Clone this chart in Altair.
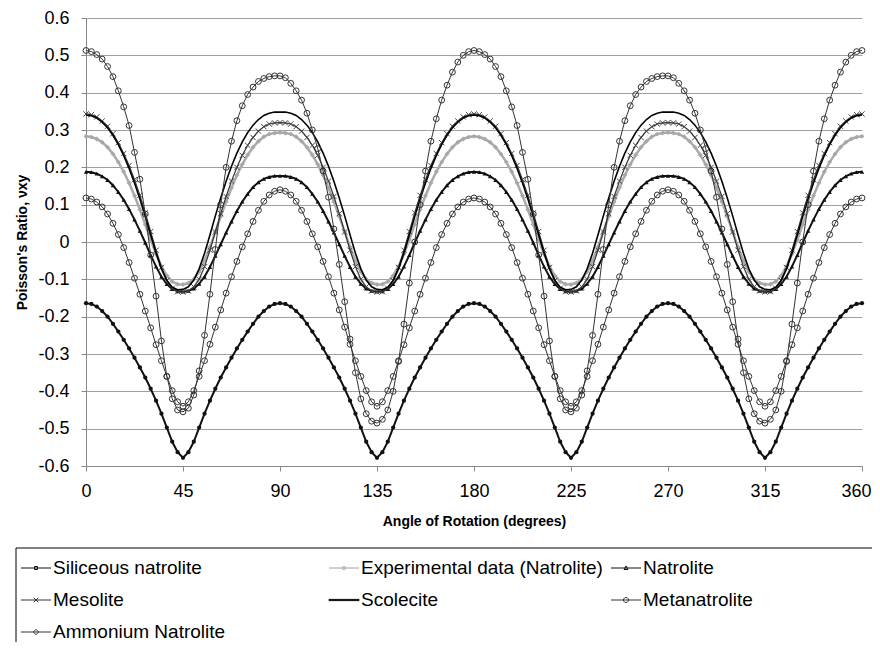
import altair as alt
import pandas as pd

# ---------------- data (every 2.5 degrees) ----------------
names = ["Siliceous natrolite", "Experimental data (Natrolite)", "Natrolite",
         "Mesolite", "Scolecite", "Metanatrolite", "Ammonium Natrolite"]

angle_step = 2.5

# 0..90 degrees (curve is mirror-symmetric about 90 and repeats every 180)
siliceous_0_90 = [-0.164, -0.166, -0.173, -0.185, -0.2, -0.219, -0.24, -0.262, -0.285, -0.31,
                  -0.336, -0.363, -0.393, -0.425, -0.46, -0.497, -0.535, -0.563, -0.578,
                  -0.563, -0.535, -0.497, -0.46, -0.425, -0.393, -0.363, -0.336, -0.31,
                  -0.285, -0.262, -0.24, -0.219, -0.2, -0.185, -0.173, -0.166, -0.164]
experimental_0_90 = [0.283, 0.281, 0.276, 0.267, 0.254, 0.236, 0.214, 0.188, 0.158, 0.124,
                     0.087, 0.047, 0.006, -0.032, -0.065, -0.09, -0.106, -0.113, -0.114,
                     -0.11, -0.1, -0.08, -0.05, -0.013, 0.027, 0.068, 0.108, 0.145,
                     0.179, 0.208, 0.233, 0.254, 0.27, 0.282, 0.289, 0.292, 0.293]
natrolite_0_90 = [0.188, 0.187, 0.183, 0.176, 0.166, 0.152, 0.134, 0.113, 0.088, 0.06,
                  0.03, -0.002, -0.035, -0.066, -0.093, -0.113, -0.126, -0.132, -0.133,
                  -0.131, -0.125, -0.112, -0.093, -0.067, -0.037, -0.006, 0.025, 0.055,
                  0.083, 0.108, 0.129, 0.147, 0.16, 0.169, 0.174, 0.177, 0.177]
mesolite_0_90 = [0.343, 0.341, 0.335, 0.324, 0.31, 0.29, 0.266, 0.237, 0.205, 0.167,
                 0.125, 0.078, 0.028, -0.022, -0.068, -0.103, -0.124, -0.133, -0.134,
                 -0.131, -0.12, -0.1, -0.066, -0.022, 0.027, 0.076, 0.122, 0.163,
                 0.2, 0.232, 0.259, 0.28, 0.297, 0.309, 0.316, 0.319, 0.32]
scolecite_0_90 = [0.34, 0.338, 0.332, 0.321, 0.306, 0.286, 0.261, 0.231, 0.197, 0.158,
                  0.115, 0.068, 0.019, -0.03, -0.072, -0.103, -0.121, -0.128, -0.127,
                  -0.12, -0.102, -0.072, -0.03, 0.019, 0.07, 0.118, 0.163, 0.203,
                  0.238, 0.268, 0.293, 0.313, 0.328, 0.339, 0.345, 0.348, 0.348]
metanatrolite_0_90 = [0.118, 0.115, 0.107, 0.094, 0.075, 0.05, 0.02, -0.015, -0.055, -0.097,
                      -0.14, -0.185, -0.23, -0.275, -0.318, -0.36, -0.398, -0.428, -0.44,
                      -0.428, -0.398, -0.36, -0.318, -0.274, -0.228, -0.182, -0.137, -0.093,
                      -0.052, -0.013, 0.022, 0.055, 0.085, 0.109, 0.126, 0.136, 0.14]
# 0..180 degrees (repeats every 180)
ammonium_0_180 = [0.513, 0.51, 0.502, 0.49, 0.47, 0.443, 0.405, 0.362, 0.312, 0.24,
                  0.168, 0.075, -0.035, -0.145, -0.265, -0.36, -0.42, -0.45, -0.455,
                  -0.445, -0.41, -0.345, -0.25, -0.14, -0.02, 0.1, 0.2, 0.27,
                  0.325, 0.365, 0.395, 0.415, 0.43, 0.438, 0.443, 0.445, 0.445,
                  0.44, 0.425, 0.405, 0.38, 0.345, 0.3, 0.25, 0.19, 0.12,
                  0.035, -0.06, -0.16, -0.26, -0.35, -0.42, -0.46, -0.48, -0.485,
                  -0.475, -0.45, -0.4, -0.32, -0.22, -0.11, 0.0, 0.1, 0.19,
                  0.27, 0.33, 0.38, 0.42, 0.455, 0.482, 0.5, 0.51, 0.513]

series_values = {
    "Siliceous natrolite": siliceous_0_90,
    "Experimental data (Natrolite)": experimental_0_90,
    "Natrolite": natrolite_0_90,
    "Mesolite": mesolite_0_90,
    "Scolecite": scolecite_0_90,
    "Metanatrolite": metanatrolite_0_90,
    "Ammonium Natrolite": ammonium_0_180,
}


def full_turn(vals):
    if len(vals) == 37:          # mirror 0..90 onto 90..180
        vals = vals + vals[-2::-1]
    return vals + vals[1:]       # 180..360 repeats 0..180


rows = []
for name in names:
    for i, v in enumerate(full_turn(series_values[name])):
        rows.append({"series": name, "angle": i * angle_step, "value": v})
df = pd.DataFrame(rows)

# ---------------- styles ----------------
FONT = "Liberation Sans, Arial, sans-serif"
styles = {
    "Siliceous natrolite": dict(color="#111111", lw=2, shape="circle", filled=True, size=18, mcolor="#111111"),
    "Experimental data (Natrolite)": dict(color="#aaaaaa", lw=2.5, shape="diamond", filled=True, size=24, mcolor="#a8a8a8"),
    "Natrolite": dict(color="#111111", lw=2, shape="triangle-up", filled=True, size=20, mcolor="#111111"),
    "Mesolite": dict(color="#333333", lw=1.2, shape="M-1,-1L1,1M-1,1L1,-1", filled=False, size=28, mcolor="#444444"),
    "Scolecite": dict(color="#000000", lw=1.6, shape=None),
    "Metanatrolite": dict(color="#333333", lw=1, shape="circle", filled=False, size=34, mcolor="#333333"),
    "Ammonium Natrolite": dict(color="#333333", lw=1, shape="circle", filled=False, size=34, mcolor="#333333"),
}

legend_colors = ["#111111", "#a0a0a0", "#111111", "#333333", "#000000", "#333333", "#333333"]
legend_paths = [
    "M-1,0H1M-0.1,-0.1H0.1V0.1H-0.1Z",
    "M-1,0H1M0,-0.13L0.13,0L0,0.13L-0.13,0Z",
    "M-1,0H1M-0.13,0.1L0,-0.14L0.13,0.1Z",
    "M-1,0H1M-0.15,-0.15L0.15,0.15M-0.15,0.15L0.15,-0.15",
    "M-1,-0.04H1V0.04H-1Z",
    "M-1,0H1M0.16,0.07L0.07,0.16L-0.07,0.16L-0.16,0.07L-0.16,-0.07L-0.07,-0.16L0.07,-0.16L0.16,-0.07Z",
    "M-1,0H1M0,-0.18L0.18,0L0,0.18L-0.18,0Z",
]

y_ticks = [round(i * 0.1, 1) for i in range(-6, 7)]
x_ticks = list(range(0, 361, 45))

x_enc = alt.X("angle:Q", scale=alt.Scale(domain=[0, 360], nice=False, zero=False),
              axis=alt.Axis(values=x_ticks, title="Angle of Rotation (degrees)", grid=False,
                            tickSize=5, labelPadding=11, titlePadding=14, labelFlush=False,
                            labelOffset={"condition": {"test": "datum.value === 360", "value": -6}, "value": 0}))
y_enc = alt.Y("value:Q", scale=alt.Scale(domain=[-0.6, 0.6], nice=False, zero=False),
              axis=alt.Axis(values=y_ticks, title="Poisson's Ratio, νxy", grid=True,
                            tickSize=5, labelPadding=12, titlePadding=8,
                            labelExpr="abs(datum.value) < 1e-9 ? '0' : (datum.value < 0 ? '-' : '') + format(abs(datum.value), '.1f')"))

plot_layers = []
for name in names:
    st = styles[name]
    sub = alt.Chart(df).transform_filter(alt.datum.series == name)
    plot_layers.append(sub.mark_line(color=st["color"], strokeWidth=st["lw"]).encode(x=x_enc, y=y_enc))
    if st["shape"]:
        plot_layers.append(sub.mark_point(shape=st["shape"], filled=st["filled"], color=st["mcolor"],
                                          size=st["size"], strokeWidth=1, opacity=1).encode(x=x_enc, y=y_enc))
plot = alt.layer(*plot_layers)

# ---------------- legend (boxed, 3 columns, entries in series order) ----------------
legend_df = pd.DataFrame({"series": names})
legend_df["col"] = [i % 3 for i in range(len(names))]
legend_df["row"] = [i // 3 for i in range(len(names))]

lx = alt.X("col:Q", scale=alt.Scale(domain=[0, 1, 2], range=[-50, 258, 540]), axis=None)
ly = alt.Y("row:Q", scale=alt.Scale(domain=[0, 2], range=[550, 614]), axis=None)

box = alt.Chart(pd.DataFrame({"box": [0]})).mark_rect(
    fill="#ffffff", stroke="#000000", strokeWidth=1
).encode(x=alt.value(-70), x2=alt.value(900), y=alt.value(530), y2=alt.value(720))

symbols = alt.Chart(legend_df).mark_point(filled=False, size=900, strokeWidth=1, opacity=1).encode(
    x=lx, y=ly,
    color=alt.Color("series:N", scale=alt.Scale(domain=names, range=legend_colors), legend=None),
    shape=alt.Shape("series:N", scale=alt.Scale(domain=names, range=legend_paths), legend=None),
)
labels = alt.Chart(legend_df).mark_text(
    align="left", baseline="middle", dx=17, fontSize=19, font=FONT, color="#000000"
).encode(x=lx, y=ly, text="series:N")

legend = alt.layer(box, symbols, labels)

chart = alt.layer(plot, legend).resolve_scale(
    x="independent", y="independent"
).properties(
    width=776, height=448,
    autosize=alt.AutoSizeParams(type="none"),
    padding={"left": 78, "top": 10, "right": 10, "bottom": 176},
).configure(font=FONT).configure_view(stroke=None).configure_axis(
    labelFont=FONT, labelFontSize=18, labelColor="#000000",
    titleFont=FONT, titleFontSize=14, titleFontWeight="bold", titleColor="#000000",
    domainColor="#888888", tickColor="#888888", gridColor="#a0a0a0", gridWidth=1,
)

chart.save("out.html", embed_options={"renderer": "svg", "actions": False})
